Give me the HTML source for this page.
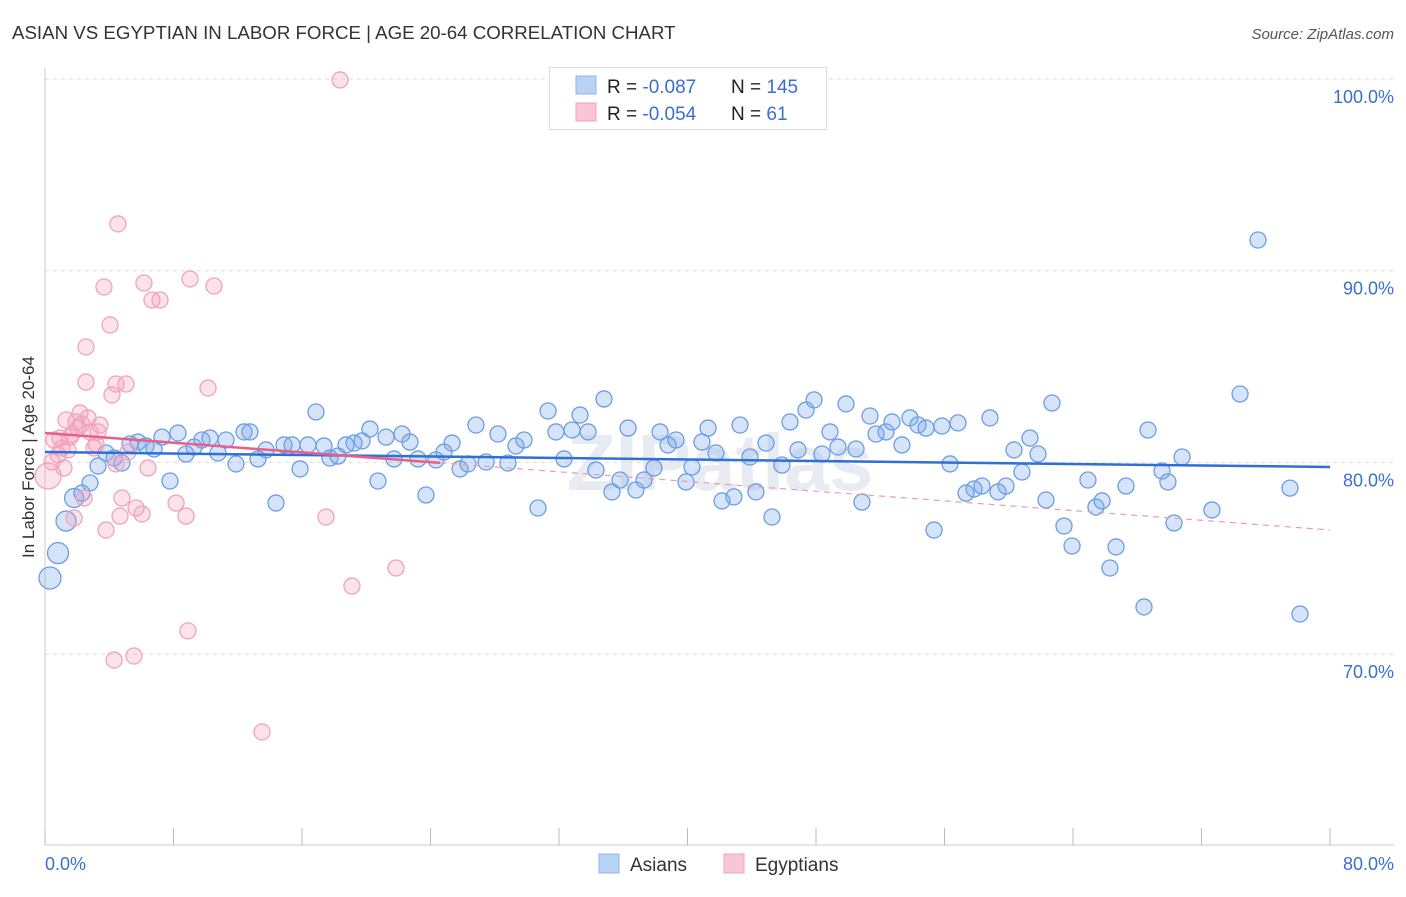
<!DOCTYPE html>
<html><head><meta charset="utf-8"><style>
body{margin:0;background:#fff;font-family:"Liberation Sans",sans-serif;}
svg text{font-family:"Liberation Sans",sans-serif;}
</style></head><body>
<svg id="c" width="1406" height="892" xmlns="http://www.w3.org/2000/svg">
<text x="12" y="39" font-size="18.7" fill="#333">ASIAN VS EGYPTIAN IN LABOR FORCE | AGE 20-64 CORRELATION CHART</text>
<text x="1394" y="39" font-size="15" fill="#555" text-anchor="end" font-style="italic">Source: ZipAtlas.com</text>
<text x="720" y="490" font-size="80" fill="#e8ecf2" text-anchor="middle" font-weight="bold">ZIPatlas</text>
<g id="grid"></g>
<g id="axes"></g>
<g id="marks"></g>
<text transform="translate(34,457) rotate(-90)" font-size="17" fill="#333" text-anchor="middle">In Labor Force | Age 20-64</text>
<text x="45" y="870" font-size="18" fill="#3a6fd0">0.0%</text>
<text x="1394" y="870" font-size="18" fill="#3a6fd0" text-anchor="end">80.0%</text>
<g>
<rect x="549.5" y="67.5" width="277" height="62" fill="#fff" stroke="#ddd"/>
<rect x="576" y="76" width="20" height="18" fill="#b8d2f4" stroke="#8fb5e8"/>
<rect x="576" y="103" width="20" height="18" fill="#f8c6d6" stroke="#f0a3bd"/>
<text x="607" y="93" font-size="19" fill="#222">R = <tspan fill="#3a6fd0">-0.087</tspan></text>
<text x="731" y="93" font-size="19" fill="#222">N = <tspan fill="#3a6fd0">145</tspan></text>
<text x="607" y="120" font-size="19" fill="#222">R = <tspan fill="#3a6fd0">-0.054</tspan></text>
<text x="731" y="120" font-size="19" fill="#222">N = <tspan fill="#3a6fd0">  61</tspan></text>
</g>
<g>
<rect x="599" y="854" width="20" height="19" fill="#b8d2f4" stroke="#8fb5e8"/>
<text x="630" y="871" font-size="19" fill="#333">Asians</text>
<rect x="724" y="854" width="20" height="19" fill="#f8c6d6" stroke="#f0a3bd"/>
<text x="755" y="871" font-size="19" fill="#333">Egyptians</text>
</g>
</svg>
<script>
const yTicks=[100,90,80,70];
const yTickLabels=["100.0%","90.0%","80.0%","70.0%"];
const xTicks=[0,8,16,24,32,40,48,56,64,72,80];
const asianPx=[[50,578],[58,553],[66,521],[74,498],[82,493],[90,483],[98,466],[106,453],[114,458],[122,463],[130,444],[138,442],[146,446],[154,449],[162,437],[170,481],[178,433],[186,454],[194,447],[202,440],[210,438],[218,453],[226,440],[236,464],[244,432],[250,432],[258,459],[266,450],[276,503],[284,445],[292,445],[300,469],[308,445],[316,412],[324,446],[330,458],[338,456],[346,445],[354,443],[362,441],[370,429],[378,481],[386,437],[394,459],[402,434],[410,442],[418,459],[426,495],[436,460],[444,452],[452,443],[460,469],[468,464],[476,425],[486,462],[498,434],[508,463],[516,446],[524,440],[538,508],[548,411],[556,432],[564,459],[572,430],[580,415],[588,432],[596,470],[604,399],[612,492],[620,480],[628,428],[636,490],[644,480],[654,468],[660,432],[668,445],[676,440],[686,482],[692,467],[702,442],[708,428],[716,453],[722,501],[734,497],[740,425],[750,457],[756,492],[766,443],[772,517],[782,465],[790,422],[798,450],[806,410],[814,400],[822,454],[830,432],[838,447],[846,404],[856,449],[862,502],[870,416],[876,434],[886,432],[892,422],[902,445],[910,418],[918,425],[926,428],[934,530],[942,426],[950,464],[958,423],[966,493],[974,489],[982,486],[990,418],[998,492],[1006,486],[1014,450],[1022,472],[1030,438],[1038,454],[1046,500],[1052,403],[1064,526],[1072,546],[1088,480],[1096,507],[1102,501],[1110,568],[1116,547],[1126,486],[1144,607],[1148,430],[1162,471],[1168,482],[1174,523],[1182,457],[1212,510],[1240,394],[1258,240],[1290,488],[1300,614]];
const egyptPx=[[48,476],[52,462],[54,440],[58,455],[60,438],[62,448],[64,468],[66,420],[68,450],[70,437],[72,434],[74,518],[76,422],[78,428],[80,413],[82,424],[84,498],[86,347],[86,382],[88,418],[90,432],[94,448],[96,444],[98,432],[100,425],[104,287],[106,530],[110,325],[112,395],[114,660],[116,464],[116,384],[118,224],[120,516],[122,498],[126,384],[128,452],[134,656],[136,508],[142,514],[144,283],[148,468],[152,300],[160,300],[176,503],[186,516],[188,631],[190,279],[208,388],[214,286],[262,732],[326,517],[340,80],[352,586],[396,568]];
const asianX=asianPx.map(p=>+((p[0]-45)/1285*80).toFixed(2));
const asianY=asianPx.map(p=>+(100-(p[1]-79)/19.17).toFixed(2));
const egyptX=egyptPx.map(p=>+((p[0]-45)/1285*80).toFixed(2));
const egyptY=egyptPx.map(p=>+(100-(p[1]-79)/19.17).toFixed(2));
const asianBigIdx=[0,1,2,3];
const NS="http://www.w3.org/2000/svg";
const X=v=>45+v/80*1285, Y=v=>79+(100-v)*19.17;
function mk(tag,attrs,parent){const e=document.createElementNS(NS,tag);for(const k in attrs)e.setAttribute(k,attrs[k]);parent.appendChild(e);return e;}
const grid=document.getElementById('grid'),axes=document.getElementById('axes'),marks=document.getElementById('marks');
yTicks.forEach((t,i)=>{
 const l=mk('line',{x1:45,x2:1394,y1:Y(t),y2:Y(t),stroke:'#ddd','stroke-dasharray':'4,4'},grid);
 
 
 const tx=mk('text',{x:1394,y:Y(t)+24,'font-size':18,fill:'#3a6fd0','text-anchor':'end'},axes);
 tx.textContent=yTickLabels[i];
 
 
});
mk('line',{x1:45,x2:45,y1:68,y2:845,stroke:'#ccc'},axes);
mk('line',{x1:45,x2:1394,y1:845,y2:845,stroke:'#ccc'},axes);
xTicks.forEach(t=>{const l=mk('line',{x1:X(t),x2:X(t),y1:828,y2:845,stroke:'#bbb'},axes);
 
 });
asianX.forEach((x,i)=>{const r=asianBigIdx.includes(i)?11-i*0.5:8;
 const c=mk('circle',{cx:X(x),cy:Y(asianY[i]),r:r,fill:'rgba(120,165,235,0.3)',stroke:'#6c9de3','stroke-width':1.3},marks);
 
 });
egyptX.forEach((x,i)=>{const r=i==0?13:8;
 const c=mk('circle',{cx:X(x),cy:Y(egyptY[i]),r:r,fill:'rgba(245,160,190,0.3)',stroke:'#f0a3bd','stroke-width':1.3},marks);
 
 });
const [ba,bb]=[100-(452-79)/19.17,-(15/19.17)/80];
let l=mk('line',{x1:X(0),y1:Y(ba),x2:X(80),y2:Y(ba+bb*80),stroke:'#2f6fd6','stroke-width':2.5},marks);


const pa=100-(433-79)/19.17, pb=-(97/19.17)/80;
l=mk('line',{x1:X(0),y1:Y(pa),x2:X(24.6),y2:Y(pa+pb*24.6),stroke:'#e8608a','stroke-width':2.5},marks);


l=mk('line',{x1:X(24.6),y1:Y(pa+pb*24.6),x2:X(80),y2:Y(pa+pb*80),stroke:'#ec9ab4','stroke-width':1.2,'stroke-dasharray':'6,5'},marks);


</script>
</body></html>
